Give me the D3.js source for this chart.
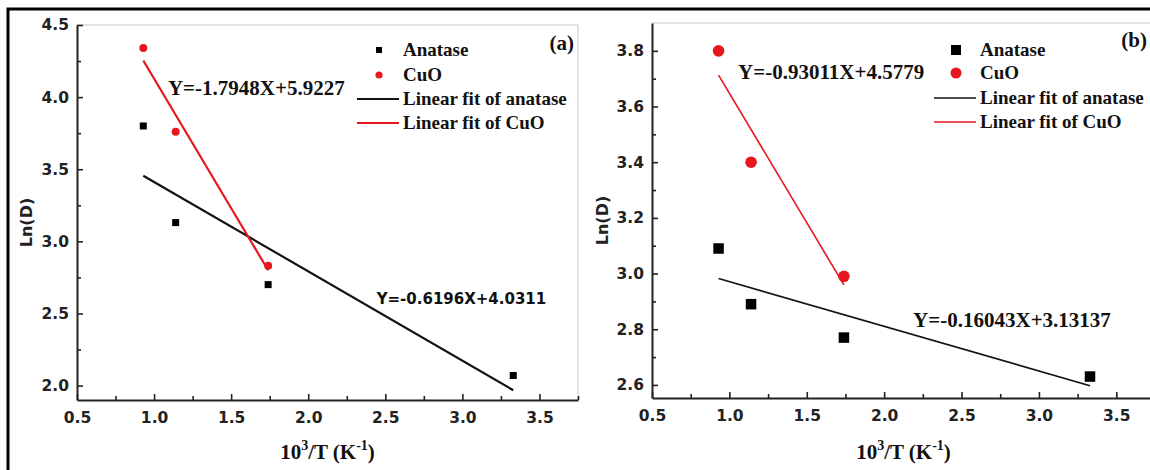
<!DOCTYPE html>
<html>
<head>
<meta charset="utf-8">
<script src="https://cdn.jsdelivr.net/npm/d3@7"></script>
<style>
  html, body { margin: 0; padding: 0; background: #fff; }
  svg { display: block; }
</style>
</head>
<body>
<svg id="chart" width="1150" height="470"></svg>
<script>
// ---------------- DATA ----------------
const anataseX = [0.93, 1.14, 1.74, 3.33];
const cuoX = [0.93, 1.14, 1.74];
const anataseA = [3.80, 3.13, 2.70, 2.07];
const cuoA = [4.34, 3.76, 2.83];
const anataseB = [3.09, 2.89, 2.77, 2.63];
const cuoB = [3.80, 3.40, 2.99];
// linear fits [slope, intercept]
const fitAnataseA = [-0.6196, 4.0311];
const fitCuoA = [-1.7948, 5.9227];
const fitAnataseB = [-0.16043, 3.13137];
const fitCuoB = [-0.93011, 4.5779];
const eqAnataseA = "Y=-0.6196X+4.0311";
const eqCuoA = "Y=-1.7948X+5.9227";
const eqAnataseB = "Y=-0.16043X+3.13137";
const eqCuoB = "Y=-0.93011X+4.5779";
const xTicks = [0.5, 1.0, 1.5, 2.0, 2.5, 3.0, 3.5];
const yTicksA = [2.0, 2.5, 3.0, 3.5, 4.0, 4.5];
const yTicksB = [2.6, 2.8, 3.0, 3.2, 3.4, 3.6, 3.8];
const legendLabels = ["Anatase", "CuO", "Linear fit of anatase", "Linear fit of CuO"];
const panelLabels = ["(a)", "(b)"];
const yTitle = "Ln(D)";

// ---------------- LAYOUT ----------------
const RED = "#e8161e";
const svg = d3.select("#chart");

// outer frame
svg.append("rect").attr("x", 8).attr("y", 9).attr("width", 1160).attr("height", 480)
  .attr("fill", "none").attr("stroke", "#000").attr("stroke-width", 3);

const panels = [
  {
    left: 77, right: 578, top: 25, bottom: 400,
    xDomain: [0.5, 3.75], yDomain: [1.9, 4.5],
    yTicks: yTicksA, yFmt: d3.format(".1f"),
    anatase: anataseA, cuo: cuoA, fitAn: fitAnataseA, fitCu: fitCuoA,
    eqAn: eqAnataseA, eqCu: eqCuoA,
    eqAnPos: [2.444, 2.569], eqCuPos: [1.09, 4.017],
    eqAnSans: true,
    sq: 7, r: 4, lsq: 6, lr: 3.6, lw: 2.2,
    legendRows: [25, 50, 74, 98],
    yTitleX: 26, label: panelLabels[0], labelEnd: 574, labelDy: 25,
    minorY: [2.25, 2.75, 3.25, 3.75, 4.25]
  },
  {
    left: 652, right: 1155, top: 23, bottom: 398,
    xDomain: [0.5, 3.75], yDomain: [2.553, 3.9],
    yTicks: yTicksB, yFmt: d3.format(".1f"),
    anatase: anataseB, cuo: cuoB, fitAn: fitAnataseB, fitCu: fitCuoB,
    eqAn: eqAnataseB, eqCu: eqCuoB,
    eqAnPos: [2.187, 2.807], eqCuPos: [1.056, 3.70],
    eqAnSans: false,
    sq: 10.5, r: 5.8, lsq: 10, lr: 5.5, lw: 1.6,
    legendRows: [27, 50, 75, 99],
    yTitleX: 602, label: panelLabels[1], labelEnd: 1147, labelDy: 24,
    minorY: [2.7, 2.9, 3.1, 3.3, 3.5, 3.7]
  }
];
const minorX = [0.75, 1.25, 1.75, 2.25, 2.75, 3.25, 3.75];

panels.forEach(p => {
  const x = d3.scaleLinear().domain(p.xDomain).range([p.left, p.right]);
  const y = d3.scaleLinear().domain(p.yDomain).range([p.bottom, p.top]);
  const g = svg.append("g");

  // top & right thin gray frame
  g.append("line").attr("x1", p.left).attr("x2", p.right).attr("y1", p.top).attr("y2", p.top)
    .attr("stroke", "#c8c8c8").attr("stroke-width", 1);
  g.append("line").attr("x1", p.right).attr("x2", p.right).attr("y1", p.top).attr("y2", p.bottom)
    .attr("stroke", "#c8c8c8").attr("stroke-width", 1);

  // axes
  const xAxis = d3.axisBottom(x).tickValues(xTicks).tickFormat(d3.format(".1f"))
    .tickSizeInner(-6).tickSizeOuter(0).tickPadding(12);
  const gx = g.append("g").attr("transform", `translate(0,${p.bottom})`).call(xAxis);
  const gxm = g.append("g").attr("transform", `translate(0,${p.bottom})`)
    .call(d3.axisBottom(x).tickValues(minorX.filter(v => v <= p.xDomain[1])).tickFormat("").tickSizeInner(-4).tickSizeOuter(0));
  const yAxis = d3.axisLeft(y).tickValues(p.yTicks).tickFormat(p.yFmt)
    .tickSizeInner(-6).tickSizeOuter(0).tickPadding(8);
  const gy = g.append("g").attr("transform", `translate(${p.left},0)`).call(yAxis);
  const gym = g.append("g").attr("transform", `translate(${p.left},0)`)
    .call(d3.axisLeft(y).tickValues(p.minorY).tickFormat("").tickSizeInner(-4).tickSizeOuter(0));

  [gx, gxm, gy, gym].forEach(a => {
    a.select(".domain").attr("stroke", "#222").attr("stroke-width", 2);
    a.selectAll(".tick line").attr("stroke", "#222").attr("stroke-width", 1.6);
  });
  gxm.select(".domain").remove();
  gym.select(".domain").remove();
  [gx, gy].forEach(a => a.selectAll(".tick text")
    .attr("font-family", "DejaVu Sans").attr("font-weight", "bold").attr("font-size", 15.5).attr("fill", "#222"));
  gx.selectAll(".tick text").attr("dy", "0.71em");

  // y title
  g.append("text").attr("transform", `translate(${p.yTitleX},${(p.top + p.bottom) / 2 + 10}) rotate(-90)`)
    .attr("text-anchor", "middle").attr("dominant-baseline", "central")
    .attr("font-family", "DejaVu Sans").attr("font-weight", "bold").attr("font-size", 16).attr("fill", "#222")
    .text(yTitle);

  // x title
  const xt = g.append("text").attr("x", (p.left + p.right) / 2).attr("y", 459)
    .attr("text-anchor", "middle")
    .attr("font-family", "Liberation Serif").attr("font-weight", "bold").attr("font-size", 21).attr("fill", "#111");
  xt.append("tspan").text("10");
  xt.append("tspan").attr("font-size", 14).attr("dy", -9).text("3");
  xt.append("tspan").attr("dy", 9).text("/T (K");
  xt.append("tspan").attr("font-size", 14).attr("dy", -9).text("-1");
  xt.append("tspan").attr("dy", 9).text(")");

  // fit lines
  const line = d3.line().x(d => x(d[0])).y(d => y(d[1]));
  const fitPts = (f, xs) => [xs[0], xs[xs.length - 1]].map(v => [v, f[0] * v + f[1]]);
  g.append("path").datum(fitPts(p.fitAn, anataseX)).attr("d", line)
    .attr("fill", "none").attr("stroke", "#111").attr("stroke-width", p.lw);
  g.append("path").datum(fitPts(p.fitCu, cuoX)).attr("d", line)
    .attr("fill", "none").attr("stroke", RED).attr("stroke-width", p.lw);

  // points
  g.selectAll(".sq").data(anataseX.map((v, i) => [v, p.anatase[i]])).join("rect")
    .attr("x", d => x(d[0]) - p.sq / 2).attr("y", d => y(d[1]) - p.sq / 2)
    .attr("width", p.sq).attr("height", p.sq).attr("fill", "#000");
  g.selectAll(".ci").data(cuoX.map((v, i) => [v, p.cuo[i]])).join("circle")
    .attr("cx", d => x(d[0])).attr("cy", d => y(d[1])).attr("r", p.r).attr("fill", RED);

  // equations
  g.append("text").attr("x", x(p.eqCuPos[0])).attr("y", y(p.eqCuPos[1]))
    .attr("font-family", "Liberation Serif").attr("font-weight", "bold").attr("font-size", 21).attr("fill", "#111")
    .text(p.eqCu);
  g.append("text").attr("x", x(p.eqAnPos[0])).attr("y", y(p.eqAnPos[1]))
    .attr("font-family", p.eqAnSans ? "DejaVu Sans" : "Liberation Serif").attr("font-weight", "bold")
    .attr("font-size", p.eqAnSans ? 15 : 21).attr("fill", "#111")
    .text(p.eqAn);

  // legend
  const lgX = p.right - 199;
  const rows = p.legendRows.map(r => p.top + r);
  g.append("rect").attr("x", lgX - p.lsq / 2).attr("y", rows[0] - p.lsq / 2).attr("width", p.lsq).attr("height", p.lsq).attr("fill", "#000");
  g.append("circle").attr("cx", lgX).attr("cy", rows[1]).attr("r", p.lr).attr("fill", RED);
  g.append("line").attr("x1", p.right - 221).attr("x2", p.right - 179).attr("y1", rows[2]).attr("y2", rows[2])
    .attr("stroke", "#111").attr("stroke-width", p.lw);
  g.append("line").attr("x1", p.right - 221).attr("x2", p.right - 179).attr("y1", rows[3]).attr("y2", rows[3])
    .attr("stroke", RED).attr("stroke-width", p.lw);
  legendLabels.forEach((t, i) => {
    g.append("text").attr("x", p.right - 175).attr("y", rows[i] + 6)
      .attr("font-family", "Liberation Serif").attr("font-weight", "bold").attr("font-size", 19).attr("fill", "#111")
      .text(t);
  });

  // panel label
  g.append("text").attr("x", p.labelEnd).attr("y", p.top + p.labelDy)
    .attr("text-anchor", "end")
    .attr("font-family", "Liberation Serif").attr("font-weight", "bold").attr("font-size", 21).attr("fill", "#111")
    .text(p.label);
});
</script>
</body>
</html>
